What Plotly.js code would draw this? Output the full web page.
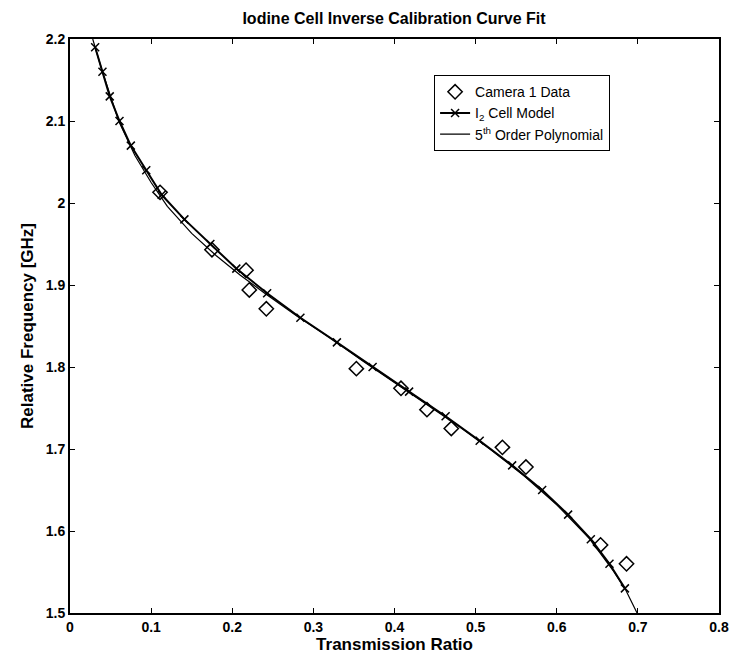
<!DOCTYPE html>
<html>
<head>
<meta charset="utf-8">
<script src="https://cdn.plot.ly/plotly-3.0.1.min.js"></script>
<style>html,body{margin:0;padding:0;background:#fff;}</style>
</head>
<body>
<div id="chart" style="width:729px;height:660px;"></div>
<script>
// Camera 1 data (diamonds)
const cameraX = [0.111,0.175,0.217,0.221,0.242,0.353,0.408,0.440,0.470,0.533,0.562,0.654,0.686];
const cameraY = [2.013,1.943,1.918,1.894,1.871,1.798,1.774,1.748,1.725,1.702,1.678,1.583,1.560];

// I2 cell model (line with x markers)
const modelX = [0.031,0.040,0.049,0.061,0.075,0.094,0.113,0.141,0.173,0.205,0.243,0.284,0.329,0.373,0.418,0.463,0.505,0.545,0.582,0.614,0.642,0.665,0.684];
const modelY = [2.19,2.16,2.13,2.10,2.07,2.04,2.01,1.98,1.95,1.92,1.89,1.86,1.83,1.80,1.77,1.74,1.71,1.68,1.65,1.62,1.59,1.56,1.53];

// 5th order polynomial fit (thin line)
const polyX = [0.028,0.040,0.060,0.080,0.100,0.120,0.150,0.180,0.210,0.240,0.280,0.320,0.360,0.400,0.440,0.480,0.520,0.560,0.600,0.640,0.670,0.685,0.699];
const polyY = [2.200,2.160,2.100,2.058,2.025,1.996,1.963,1.936,1.912,1.890,1.862,1.836,1.808,1.781,1.754,1.727,1.698,1.667,1.632,1.591,1.551,1.528,1.500];

const xTicks = [0,0.1,0.2,0.3,0.4,0.5,0.6,0.7,0.8];
const yTicks = [1.5,1.6,1.7,1.8,1.9,2.0,2.1,2.2];
const xTickText = ['0','0.1','0.2','0.3','0.4','0.5','0.6','0.7','0.8'];
const yTickText = ['1.5','1.6','1.7','1.8','1.9','2','2.1','2.2'];

const FONT = '"Liberation Sans Narrow", "Arial Narrow", "Liberation Sans", Arial, sans-serif';

const traces = [
  {
    x: cameraX, y: cameraY, type: 'scatter', mode: 'markers',
    name: 'Camera 1 Data',
    marker: {symbol: 'diamond-open', size: 11, color: '#000', line: {width: 1.5, color: '#000'}}
  },
  {
    x: modelX, y: modelY, type: 'scatter', mode: 'lines+markers',
    name: 'I<sub>2</sub> Cell Model',
    line: {color: '#000', width: 2},
    marker: {symbol: 'x-thin-open', size: 8, color: '#000', line: {width: 1.5, color: '#000'}}
  },
  {
    x: polyX, y: polyY, type: 'scatter', mode: 'lines',
    name: '5<sup>th</sup> Order Polynomial',
    line: {color: '#000', width: 1.2}
  }
];

const axisCommon = {
  showgrid: false, zeroline: false, showline: true, mirror: 'ticks',
  linecolor: '#000', linewidth: 2, ticks: 'inside', ticklen: 5, tickwidth: 1,
  tickcolor: '#000', tickfont: {family: FONT, size: 14, color: '#000', weight: 'bold'}
};

const layout = {
  width: 729, height: 660,
  margin: {l: 70, r: 10, t: 39, b: 47},
  paper_bgcolor: '#fff', plot_bgcolor: '#fff',
  showlegend: true,
  title: {
    text: '<b>Iodine Cell Inverse Calibration Curve Fit</b>',
    font: {family: FONT, size: 16, color: '#000'},
    x: 0.5405, xanchor: 'center', y: 0.972, yanchor: 'middle'
  },
  xaxis: Object.assign({}, axisCommon, {
    range: [0, 0.8], tickvals: xTicks, ticktext: xTickText,
    title: {text: '<b>Transmission Ratio</b>', font: {family: FONT, size: 17, color: '#000'}, standoff: 2}
  }),
  yaxis: Object.assign({}, axisCommon, {
    range: [1.5, 2.2], tickvals: yTicks, ticktext: yTickText,
    title: {text: '<b>Relative Frequency [GHz]</b>', font: {family: FONT, size: 17, color: '#000'}, standoff: 8}
  }),
  legend: {
    x: 0.561, y: 0.937, xanchor: 'left', yanchor: 'top',
    bgcolor: '#fff', bordercolor: '#000', borderwidth: 1,
    font: {family: FONT, size: 14, color: '#000'},
    tracegroupgap: 0, itemwidth: 30
  }
};

Plotly.newPlot('chart', traces, layout, {displayModeBar: false, staticPlot: true});
</script>
</body>
</html>
